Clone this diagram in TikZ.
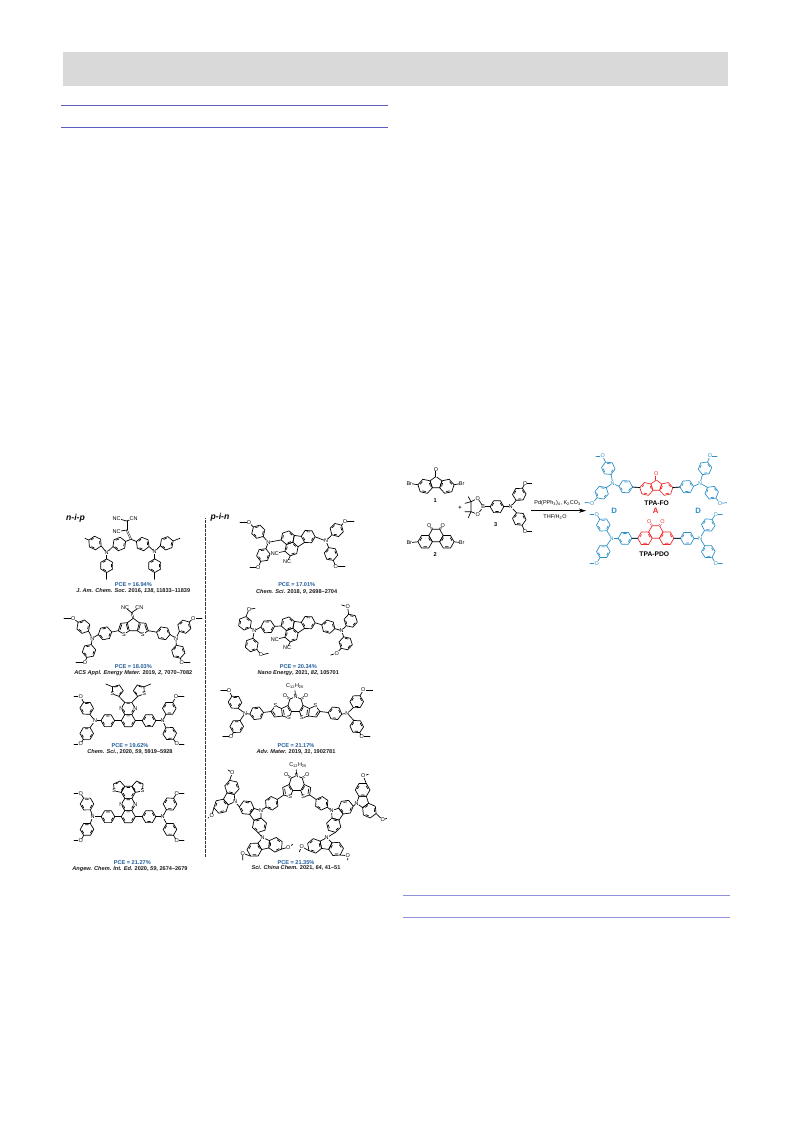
\documentclass[tikz,border=0pt]{standalone}
\usepackage{fontspec}
\setmainfont{Liberation Sans}
\usetikzlibrary{arrows.meta,calc}
\definecolor{pceblue}{HTML}{1F5C99}
\definecolor{dblue}{HTML}{2E8FC8}
\definecolor{dred}{HTML}{EE2A2A}
\definecolor{band}{HTML}{D9D9D9}
\definecolor{ruleA}{HTML}{5A5FC0}
\definecolor{ruleB}{HTML}{9090D8}
\tikzset{
  bond/.style={line width=.68pt,line cap=round,line join=round},
  dbond/.style={double,double distance=.75pt,line width=.45pt},
  atom/.style={font=\fontsize{5.5}{5.5}\selectfont,fill=white,inner sep=.1pt},
  plain/.style={font=\fontsize{5.5}{5.5}\selectfont,inner sep=0pt},
  pce/.style={font=\fontsize{5.6}{6}\bfseries\selectfont,text=pceblue,inner sep=0pt},
  refr/.style={font=\fontsize{5.6}{6}\bfseries\selectfont,text=black!90,inner sep=0pt},
  head/.style={font=\fontsize{8.6}{9}\bfseries\itshape\selectfont,inner sep=0pt},
  num/.style={font=\fontsize{5.6}{6}\bfseries\selectfont,inner sep=0pt},
  cname/.style={font=\fontsize{6.7}{7}\bfseries\selectfont,inner sep=0pt},
  dalet/.style={font=\fontsize{7.8}{8}\bfseries\selectfont,inner sep=0pt}
}
\newcounter{lc}
\newcommand\lab[3]{\stepcounter{lc}\node[#2] (t\arabic{lc}) at (#1) {#3};}
\def\Rr{6.4}\def\Ri{4.6}
\newcommand\hxp[3]{\draw[bond,shift={(#1,#2)}] (#3:\Rr)--(#3+60:\Rr)--(#3+120:\Rr)--(#3+180:\Rr)--(#3+240:\Rr)--(#3+300:\Rr)--cycle;}
\newcommand\hx[3]{\hxp{#1}{#2}{#3}\draw[bond,shift={(#1,#2)}] (#3+13:\Ri)--(#3+47:\Ri) (#3+133:\Ri)--(#3+167:\Ri) (#3+253:\Ri)--(#3+287:\Ri);}
\newcommand\pent[3]{\draw[bond,shift={(#1,#2)}] (#3:5.44)--(#3+72:5.44)--(#3+144:5.44)--(#3+216:5.44)--(#3+288:5.44)--cycle;
  \draw[bond,shift={(#1,#2)}] (#3+88:3.9)--(#3+128:3.9) (#3+232:3.9)--(#3+272:3.9);}
% phenyl ring between a point and a target, para (free rings are a little larger)
\def\ph#1,#2;#3,#4;#5,#6;{{\def\Rr{6.8}\def\Ri{4.95}\pgfmathsetmacro\angA{atan2(#6-#4,#5-#3)}%
  \hx{#3}{#4}{\angA}%
  \draw[bond] (#1,#2)--([shift={(#3,#4)}]\angA+180:\Rr);
  \draw[bond] ([shift={(#3,#4)}]\angA:\Rr)--(#5,#6);}}
% para-methoxyphenyl arm
\def\arm#1,#2;#3,#4;#5,#6;#7,#8;{\ph #1,#2;#3,#4;#5,#6;\draw[bond] (#5,#6)--(#7,#8);\lab{#5,#6}{atom}{O}}
% meta-methoxyphenyl arm
\def\armm#1,#2;#3,#4;#5;#6,#7;#8,#9;{{\def\Rr{6.8}\def\Ri{4.95}\pgfmathsetmacro\angB{atan2(#2-#4,#1-#3)}\pgfmathsetmacro\angC{\angB+(#5)*120}%
  \hx{#3}{#4}{\angB}%
  \draw[bond] (#1,#2)--([shift={(#3,#4)}]\angB:\Rr);
  \draw[bond] ([shift={(#3,#4)}]\angC:\Rr)--(#6,#7)--(#8,#9);\lab{#6,#7}{atom}{O}}}
% fused tricycle: apex at point, axis file angle, scale, name
\def\fused#1,#2;#3;#4;#5;{\pgfmathsetmacro\thF{90-(#3)}%
  \begin{scope}[shift={(#1,#2)},rotate=\thF,scale=#4]
  \draw[bond] (0,0)--(5.17,3.76)--(3.2,9.84)--(-3.2,9.84)--(-5.17,3.76)--cycle;
  \hx{9.46}{8.51}{48}\hx{-9.46}{8.51}{72}
  \coordinate (#5R) at (13.74,13.27);\coordinate (#5L) at (-13.74,13.27);
  \coordinate (#5Rb) at (15.72,7.18);\coordinate (#5Lb) at (-15.72,7.18);
  \end{scope}}
\def\cbz#1,#2;#3;#4;{\fused #1,#2;#3;1.15;#4;\lab{#1,#2}{atom}{N}}
\def\ome(#1)#2,#3;#4,#5;{\draw[bond] (#1)--(#2,#3)--(#4,#5);\lab{#2,#3}{atom}{O}}
% phenanthrenequinone
\def\pqc#1,#2;#3;{\begin{scope}[shift={(#1,#2)},scale=1.13]
  \hxp{0}{0}{0}\hx{-9.6}{5.54}{60}\hx{9.6}{5.54}{60}
  \draw[dbond] (-3.2,-5.54)--(-5.9,-9);\draw[dbond] (3.2,-5.54)--(5.9,-9);
  \lab{-5.9,-9}{atom}{O}\lab{5.9,-9}{atom}{O}
  \coordinate (#3L) at (-16,5.54);\coordinate (#3R) at (16,5.54);
  \end{scope}}
% dicyano fluoranthene core
\def\flcore#1;{\begin{scope}[shift={(0,#1)},shift={(298,542)},scale=1.08,shift={(-298,-542)}]
  \hx{288.5}{538}{41}\hx{292}{548.5}{41}\hx{307.5}{537}{2}
  \draw[bond] (293.3,542.2)--(294.5,535.9)--(301.1,536.8) (304.1,542.4)--(298,546.4);
  \draw[bond] (286,550.6)--(276.5,552.5) (290.8,554.8)--(288,560.5);
  \lab{276.5,552.5}{atom}{NC}\lab{288,560.5}{atom}{NC}
  \end{scope}}
% dithieno imide core
\def\imc#1,#2;{\begin{scope}[shift={(#1,#2)}]
  \draw[bond] (0,0)--(-.5,-6);
  \foreach \sg in {1,-1}{\begin{scope}[xscale=\sg]
    \draw[bond] (0,0)--(-5.5,2.3)--(-7.5,8.8)--(-4,14.8)--(0,14.8);
    \draw[bond] (-7.5,8.8)--(-14,11.8)--(-13,19.3)--(-6.5,21.3)--(-4,14.8);
    \draw[dbond] (-5.5,2.3)--(-10.5,-1);
    \draw[bond] (-7.7,10.7)--(-5.7,14.2) (-12,13.2)--(-11.3,18.2);
    \lab{-10.5,-1}{atom}{O}\lab{-6.5,21.3}{atom}{S}
  \end{scope}}
  \lab{0,0}{atom}{N}
  \end{scope}}
\def\imo#1,#2;{\begin{scope}[shift={(#1,#2)}]
  \foreach \sg in {1,-1}{\begin{scope}[xscale=\sg]
    \draw[bond] (-14,11.8)--(-20,9.1)--(-24.5,14.8)--(-21,20.3)--(-13,19.3);
    \draw[bond] (-22.6,14.8)--(-20.2,18.5);
    \lab{-20,9.1}{atom}{S}
  \end{scope}}
  \end{scope}}
\begin{document}
\begin{tikzpicture}[x=1pt,y=-1pt]
\useasboundingbox (0,0) rectangle (793,1121);
\fill[band] (63,52) rectangle (728,86);
\coordinate (ra1) at (61,105.3);\coordinate (ra2) at (388,105.3);
\coordinate (rb1) at (61,127.3);\coordinate (rb2) at (388,127.3);
\coordinate (rc1) at (403,895.3);\coordinate (rc2) at (730,895.3);
\coordinate (rd1) at (403,917.3);\coordinate (rd2) at (730,917.3);
\draw[ruleA,line width=.7pt] (ra1)--(ra2) (rb1)--(rb2);
\draw[ruleB,line width=.7pt] (rc1)--(rc2) (rd1)--(rd2);
% separator
\coordinate (sep1) at (205,518.3);\coordinate (sep2) at (205,856.7);
\draw[line width=.9pt,dash pattern=on .7pt off .6pt,black!80] (sep1)--(sep2);
\lab{75.5,518.3}{head}{n-i-p}
\lab{220,517.3}{head}{p-i-n}
% ---- compound 1
\ph 106.7,552.7;95,543;85,538.3;
\ph 106.7,552.7;106.7,565.7;106.7,579.3;
\ph 106.7,552.7;119.3,544;131,539.3;
\ph 154.7,551.7;142.7,544;131,539.3;
\ph 154.7,551.7;166.7,543.3;180,538.3;
\ph 154.7,551.7;154.7,565.7;154.7,579.3;
\draw[dbond] (131,539.3)--(126.7,530);
\draw[dbond] (126.7,530)--(126.7,521);
\draw[bond] (126.7,530)--(116.7,531.7) (126.7,521)--(116.7,518.3) (126.7,521)--(133.5,518.3);
\lab{116.7,531.7}{atom}{NC}\lab{116.7,518.3}{atom}{NC}\lab{133.5,518.3}{atom}{CN}
\lab{106.7,552.7}{atom}{N}\lab{154.7,551.7}{atom}{N}
\lab{133.3,585}{pce}{PCE = 16.94\%}
\lab{133.3,591}{refr}{\textit{J. Am. Chem. Soc.} 2016, \textit{138}, 11833–11839}
% ---- compound 5
\flcore 0;
\arm 268.3,542.3;258.3,531.7;249,522.7;240,522.7;
\arm 268.3,542.3;263.3,555;258.3,567.3;250,567.3;
\arm 326,541;336.7,530;345,521.7;354,521.7;
\arm 326,541;331,554;335.7,566.7;345,566.7;
\draw[bond] (268.3,542.3)--(281.15,539.95) (315.2,536.8)--(326,541);
\lab{268.3,542.3}{atom}{N}\lab{326,541}{atom}{N}
\lab{296.7,585}{pce}{PCE = 17.01\%}
\lab{296.7,591.7}{refr}{\textit{Chem. Sci.} 2018, \textit{9}, 2698–2704}
% ---- compound 2
\draw[bond] (133.3,618.3)--(127.3,622.7)--(129.3,630.7)--(137.3,630.7)--(139.3,622.7)--cycle;
\draw[bond] (118.3,630.7)--(120.7,623.3)--(127.3,622.7);
\draw[bond] (129.3,630.7)--(124,634.3)--(118.3,630.7);
\draw[bond] (148.3,630.7)--(145.9,623.3)--(139.3,622.7);
\draw[bond] (137.3,630.7)--(142.6,634.3)--(148.3,630.7);
\draw[bond] (120,630)--(121.8,624.6) (126.3,624)--(127.8,629.6) (146.6,630)--(144.8,624.6) (140.3,624)--(138.8,629.6);
\draw[dbond] (133.3,618.3)--(131.7,612.7);
\draw[bond] (131.7,612.7)--(125,607.3) (131.7,612.7)--(139.3,607.3);
\lab{125,607.3}{atom}{NC}\lab{139.3,607.3}{atom}{CN}
\lab{124,634.3}{atom}{S}\lab{142.6,634.3}{atom}{S}
\ph 92.3,638.3;105,633.3;118.3,630.7;
\ph 176,638.3;163.3,633.3;148.3,630.7;
\arm 92.3,638.3;83.3,626.7;73.3,618.3;64,618.3;
\arm 92.3,638.3;89,651;85,662.3;76,662.3;
\arm 176,638.3;184.3,626.7;193.3,618.3;202,618.3;
\arm 176,638.3;178.3,651.7;181.7,662.3;190,662.3;
\lab{92.3,638.3}{atom}{N}\lab{176,638.3}{atom}{N}
\lab{133.3,666.7}{pce}{PCE = 18.03\%}
\lab{133.3,673.3}{refr}{\textit{ACS Appl. Energy Mater.} 2019, \textit{2}, 7070–7082}
% ---- compound 6
\flcore 86;
\ph 254.3,630.7;267.7,626.7;281.15,625.95;
\ph 341.7,630.7;328.3,626.7;315.2,622.8;
\armm 254.3,630.7;245,623.3;-1;249,609.3;255,608.3;
\armm 254.3,630.7;251.7,645;1;261,655;268.3,653.3;
\armm 341.7,630.7;350.7,620.7;1;347.7,606.7;341.7,605;
\armm 341.7,630.7;345.7,643.3;-1;336.7,653.3;330.7,655;
\lab{254.3,630.7}{atom}{N}\lab{341.7,630.7}{atom}{N}
\lab{298.3,666.7}{pce}{PCE = 20.34\%}
\lab{298.3,672.7}{refr}{\textit{Nano Energy}, 2021, \textit{82}, 105701}
% ---- compound 3
\begin{scope}[shift={(128.3,720.7)},scale=1.1]
\hx{0}{0}{0}\hx{0}{-11.1}{0}
\pent{-10}{-27.4}{146}\pent{10}{-27.4}{34}
\draw[bond] (-8.5,-22.1)--(-3.2,-16.6) (3.2,-16.6)--(8.5,-22.1) (-14.3,-30.8)--(-20.5,-33.4) (14.3,-30.8)--(20.5,-33.4);
\lab{-14.5,-24.4}{atom}{S}\lab{14.5,-24.4}{atom}{S}
\lab{-6.4,-11.1}{atom}{N}\lab{6.4,-11.1}{atom}{N}
\end{scope}
\ph 95,720.7;107.8,720.7;121.26,720.7;
\ph 162.7,720.7;149,720.7;135.34,720.7;
\arm 95,720.7;86.7,708.3;80.7,696.7;74,696.7;
\arm 95,720.7;86.7,733.5;80.7,744;74,744;
\arm 162.7,720.7;169.3,708.3;176,696.7;184,696.7;
\arm 162.7,720.7;169.7,733.5;176.7,744;184,744;
\lab{95,720.7}{atom}{N}\lab{162.7,720.7}{atom}{N}
\lab{130,745.7}{pce}{PCE = 19.62\%}
\lab{130,752.3}{refr}{\textit{Chem. Sci.}, 2020, \textit{59}, 5919–5928}
% ---- compound 7
\imc 295.5,696.7;
\imo 295.5,696.7;
\lab{295,686}{plain}{C\textsubscript{12}H\textsubscript{25}}
\ph 245,713.3;256.7,713.3;271,711.5;
\ph 347.3,713.3;335,713.3;320,711.5;
\arm 245,713.3;235,702.3;229,690.7;220.7,690.7;
\arm 245,713.3;236.7,726.5;231,736.7;222.7,736.7;
\arm 347.3,713.3;356.7,701.7;363.3,690;372.7,690;
\arm 347.3,713.3;356.7,726.5;361.7,736.7;370,736.7;
\lab{245,713.3}{atom}{N}\lab{347.3,713.3}{atom}{N}
\lab{296,745.7}{pce}{PCE = 21.17\%}
\lab{296,752.3}{refr}{\textit{Adv. Mater.} 2019, \textit{31}, 1902781}
% ---- compound 4
\begin{scope}[shift={(128.3,816.7)},scale=1.1]
\hx{0}{0}{0}\hx{0}{-11.1}{0}\hx{0}{-22.2}{0}
\pent{-8.7}{-27.1}{138}\pent{8.7}{-27.1}{42}
\lab{-12.8,-23.4}{atom}{S}\lab{12.8,-23.4}{atom}{S}
\lab{-6.4,-11.1}{atom}{N}\lab{6.4,-11.1}{atom}{N}
\end{scope}
\ph 92.7,816.7;108,816.7;121.26,816.7;
\ph 162.7,816.7;149,816.7;135.34,816.7;
\arm 92.7,816.7;87,804;80.7,793.3;74,793.3;
\arm 92.7,816.7;87,829.4;80.7,840.7;74,840.7;
\arm 162.7,816.7;170,804;176.7,793.3;184,793.3;
\arm 162.7,816.7;170,829.4;176.7,840.7;184,840.7;
\lab{92.7,816.7}{atom}{N}\lab{162.7,816.7}{atom}{N}
\lab{132.3,862.7}{pce}{PCE = 21.27\%}
\lab{130,869}{refr}{\textit{Angew. Chem. Int. Ed.} 2020, \textit{59}, 2674–2679}
% ---- compound 8
\imc 296.7,775.7;
\lab{298,765}{plain}{C\textsubscript{12}H\textsubscript{25}}
\ph 261,810.7;271.7,803.3;283.7,795;
\ph 331.7,810.7;321.7,803.3;309.7,795;
\cbz 261,810.7;144;cA;
\cbz 331.7,810.7;34;cB;
\draw[bond] (cAL)--(235,801.7) (cAR)--(262.7,837.7) (cBR)--(356.7,803.3) (cBL)--(326.7,837.7);
\cbz 235,801.7;210;cC;
\cbz 262.7,837.7;77;cD;
\cbz 356.7,803.3;-18;cE;
\cbz 326.7,837.7;98;cF;
\ome(cCL)232.3,772.7;228,770;
\ome(cCR)211.7,815.7;208,818;
\ome(cDL)242.7,853.3;242.7,860;
\ome(cDR)288.3,847.3;292.7,844.3;
\ome(cER)363.3,776;368.3,774.3;
\ome(cEL)382.7,820;386.7,818.3;
\ome(cFL)301.7,846.7;299.3,851.7;
\ome(cFR)347.7,855.7;347.7,860;
\lab{296,862.3}{pce}{PCE = 21.35\%}
\lab{296,868.3}{refr}{\textit{Sci. China Chem.} 2021, \textit{64}, 41–51}
% ---- scheme reagents
\fused 436,476.5;90;1.15;fa;
\draw[dbond] (436,476.5)--(436,469.3);
\draw[bond] (faLb)--(409.3,483.3) (faRb)--(461.7,483.3);
\lab{436,469.3}{atom}{O}\lab{409.3,483.3}{atom}{Br}\lab{461.7,483.3}{atom}{Br}
\lab{435.3,500.7}{num}{1}
\pqc 436,535.5;qa;
\draw[bond] (qaL)--(409.3,542.7) (qaR)--(461.7,542.7);
\lab{409.3,542.7}{atom}{Br}\lab{461.7,542.7}{atom}{Br}
\lab{435.3,555}{num}{2}
\lab{460,507.7}{num}{+}
\draw[bond] (483.3,506.7)--(477.7,498.3)--(471,501.7)--(471,511.7)--(477.7,514.3)--cycle;
\draw[bond] (471,501.7)--(468.3,496.7) (471,501.7)--(465,503.3) (471,511.7)--(465,511.7) (471,511.7)--(468.3,517.7);
\ph 510.7,506.7;497,506.7;483.3,506.7;
\lab{477.7,498.3}{atom}{O}\lab{477.7,514.3}{atom}{O}\lab{483.3,506.7}{atom}{B}
\arm 510.7,506.7;519.3,494.3;525,483.3;531.7,483.3;
\arm 510.7,506.7;519.3,519;525,531.7;531.7,531.7;
\lab{510.7,506.7}{atom}{N}
\lab{495.7,525}{num}{3}
\coordinate (ar1) at (531,510.7);\coordinate (ar2) at (586,510.7);
\draw[line width=.55pt,-{Stealth[length=7pt,width=4.2pt]}] (ar1)--(ar2);
\lab{557.6,503}{plain}{Pd(PPh\textsubscript{3})\textsubscript{4}, K\textsubscript{2}CO\textsubscript{3}}
\lab{555,517.3}{plain}{THF/H\textsubscript{2}O}
% ---- TPA-FO
\begin{scope}[color=dred]
\fused 656.3,480;90;1.05;fr;
\draw[dbond] (656.3,480)--(656.3,474.3);
\lab{656.3,473.5}{atom}{O}
\end{scope}
\begin{scope}[color=dblue]
\ph 612.7,483.3;625.7,486.7;639.8,487.5;
\ph 700,483.3;686.7,486.7;672.8,487.5;
\arm 612.7,483.3;608.3,468.3;602.7,456;596,456;
\arm 612.7,483.3;601.7,492.7;592.3,503.3;585,502.3;
\arm 700,483.3;705,468.3;710,456;717,456;
\arm 700,483.3;711.7,492.7;720,503.3;726.7,502.7;
\lab{612.7,483.3}{atom}{N}\lab{700,483.3}{atom}{N}
\end{scope}
\draw[bond] (632.5,487)--(frLb) (680,487)--(frRb);
\lab{656.7,502.7}{cname}{TPA-FO}
\lab{655.7,511}{dalet,text=dred}{A}
\lab{614.3,510.7}{dalet,text=dblue}{D}
\lab{698.3,510.7}{dalet,text=dblue}{D}
% ---- TPA-PDO
\begin{scope}[color=dred]
\pqc 655.8,532;qb;
\end{scope}
\begin{scope}[color=dblue]
\ph 611.7,538.3;625,538.3;637.7,538.3;
\ph 700,538.3;687.3,538.3;673.9,538.3;
\arm 611.7,538.3;603.3,525;596.7,514.3;590,514.3;
\arm 611.7,538.3;603.3,551.6;596.7,563.3;590,563.3;
\arm 700,538.3;708.3,525;715.7,514.3;722.3,514.3;
\arm 700,538.3;708.3,551.6;715.7,563.3;722.3,563.3;
\lab{611.7,538.3}{atom}{N}\lab{700,538.3}{atom}{N}
\end{scope}
\draw[bond] (631.8,538.3)--(qbL) (680.5,538.3)--(qbR);
\lab{654.3,554.3}{cname}{TPA-PDO}
\end{tikzpicture}
\end{document}
